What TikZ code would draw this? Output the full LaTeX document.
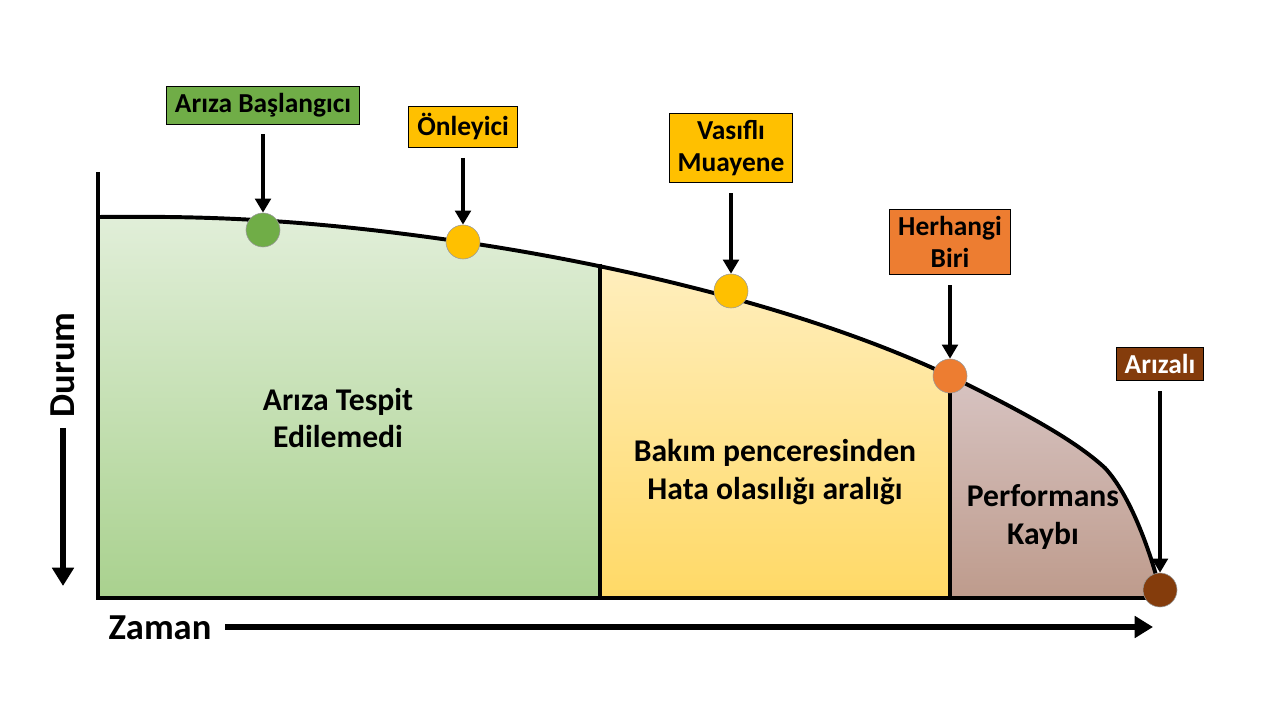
\documentclass[tikz,border=0pt]{standalone}
\usepackage{fontspec}
\setmainfont{Carlito}
\usetikzlibrary{arrows.meta,positioning}
\definecolor{grn}{HTML}{70AD47}
\definecolor{yel}{HTML}{FFC000}
\definecolor{org}{HTML}{ED7D31}
\definecolor{brn}{HTML}{843C0C}

\begin{document}
\begin{tikzpicture}[x=0.025cm,y=-0.025cm]
    \tikzstyle{dot}=[circle,draw=black!40,line width=0.4pt,minimum size=0.85cm,inner sep=0pt]
    \tikzstyle{tag}=[draw,line width=0.6pt,font=\bfseries\fontsize{19.5}{23}\selectfont,align=center,inner xsep=6pt,inner ysep=5pt]
    \tikzstyle{region}=[font=\bfseries\fontsize{22.5}{27}\selectfont,align=center]
    \tikzstyle{axis}=[font=\bfseries\fontsize{26}{30}\selectfont]
    \tikzstyle{line} = [draw, line width=3pt, -{Triangle[length=10pt,width=11pt]}]
    \tikzstyle{axisline} = [draw, line width=4.2pt, -{Triangle[length=13pt,width=15pt]}]
    \useasboundingbox (0,0) rectangle (1280,720);

    % Shaded regions under the curve
    \begin{scope}
        \clip (98,598) -- (98,217) .. controls (200,216) and (300,218) .. (463,242)
            .. controls (600,262) and (800,305) .. (950,376)
            .. controls (1040,420) and (1080,445) .. (1105,468)
            .. controls (1130,495) and (1150,550) .. (1160,590) -- (1160,598) -- cycle;
        \shade[top color={rgb,255:red,226;green,239;blue,218},bottom color={rgb,255:red,169;green,209;blue,142}] (98,210) rectangle (600,598);
        \shade[top color={rgb,255:red,255;green,242;blue,204},bottom color={rgb,255:red,255;green,217;blue,102}] (600,210) rectangle (950,598);
        \shade[top color={rgb,255:red,234;green,226;blue,234},bottom color={rgb,255:red,190;green,155;blue,140}] (950,210) rectangle (1160,598);
    \end{scope}

    % Curve, axes and dividers
    \draw[line width=2.8pt] (98,217) .. controls (200,216) and (300,218) .. (463,242)
        .. controls (600,262) and (800,305) .. (950,376)
        .. controls (1040,420) and (1080,445) .. (1105,468)
        .. controls (1130,495) and (1150,550) .. (1160,590);
    \draw[line width=2.8pt] (98,172) -- (98,598) -- (1160,598);
    \draw[line width=2.8pt] (600,264) -- (600,598);
    \draw[line width=2.8pt] (950,376) -- (950,598);

    % Points on the curve
    \node[dot,fill=grn] (P-1) at (263,230) {};
    \node[dot,fill=yel] (P-2) at (463,242) {};
    \node[dot,fill=yel] (P-3) at (731,291) {};
    \node[dot,fill=org] (P-4) at (950,376) {};
    \node[dot,fill=brn] (P-5) at (1160,590) {};

    % Tags above the points
    \node[tag,fill=grn] (T-1) at (263,105) {Arıza Başlangıcı};
    \node[tag,fill=yel] (T-2) at (463,127) {Önleyici};
    \node[tag,fill=yel] (T-3) at (731,148) {Vasıflı\\Muayene};
    \node[tag,fill=org] (T-4) at (950,242) {Herhangi\\Biri};
    \node[tag,fill=brn,text=white] (T-5) at (1160,364) {Arızalı};
    \foreach \i in {1,...,5}
        \path[line] (T-\i.south) ++(0,10) -- (P-\i.north);

    % Region labels
    \node[region] (r1) at (338,418) {Arıza Tespit\\Edilemedi};
    \node[region] (r2) at (775,472) {Bakım penceresinden\\Hata olasılığı aralığı};
    \node[region] (r3) at (1043,517) {Performans\\Kaybı};

    % Axis labels
    \node[axis,rotate=90] (dur) at (63,365) {Durum};
    \coordinate (dd) at (63,586);
    \path[axisline] (63,428) -- (dd);
    \node[axis] (zam) at (160,628) {Zaman};
    \coordinate (ze) at (1153,627);
    \path[axisline] (225,627) -- (ze);
\end{tikzpicture}
\end{document}
